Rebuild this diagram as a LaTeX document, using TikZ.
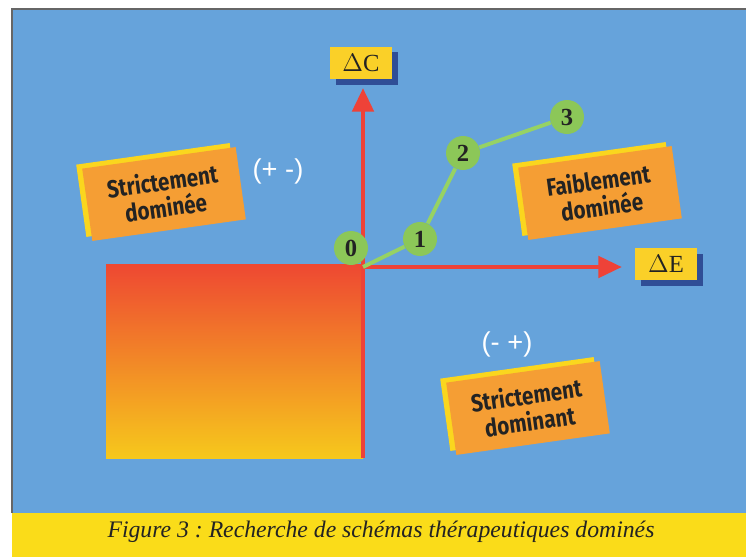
\documentclass[tikz,border=0pt]{standalone}
\usepackage{fontspec}
\setmainfont{Liberation Serif}
\newfontfamily\tagfont{Fira Sans}
\newfontfamily\signfont{Liberation Sans}
\usetikzlibrary{arrows.meta, shadows}
\frenchspacing

\definecolor{panelblue}{RGB}{102,163,219}
\definecolor{captionyellow}{RGB}{250,220,25}
\definecolor{tagorange}{RGB}{245,158,52}
\definecolor{tagyellow}{RGB}{250,214,30}
\definecolor{boxyellow}{RGB}{250,208,40}
\definecolor{axisred}{RGB}{238,66,56}
\definecolor{pointgreen}{RGB}{140,199,88}
\definecolor{linegreen}{RGB}{150,210,100}
\definecolor{shadowblue}{RGB}{48,78,150}
\definecolor{inkgrey}{RGB}{35,35,35}
\definecolor{gradtop}{RGB}{238,72,50}
\definecolor{gradbottom}{RGB}{246,200,28}

% narrow two-line label for the region tags
\newcommand{\tagtext}[2]{\scalebox{0.84}[1]{#1}\\\scalebox{0.84}[1]{#2}}

\begin{document}
\begin{tikzpicture}[
        x=0.02cm, y=-0.02cm,
        tag/.style={fill=tagorange, rotate=8, minimum width=3.1cm, minimum height=1.46cm, align=center, inner sep=0pt, text=inkgrey, font=\tagfont\bfseries\fontsize{14}{15}\selectfont, copy shadow={fill=tagyellow, draw=none, shadow xshift=-0.12cm, shadow yshift=0.08cm}},
        axislabel/.style={fill=boxyellow, minimum width=1.24cm, minimum height=0.66cm, inner sep=0pt, text=inkgrey, font=\fontsize{14}{14}\selectfont, drop shadow={fill=shadowblue, opacity=1, shadow xshift=0.12cm, shadow yshift=-0.12cm}},
        sign/.style={text=white, font=\signfont\fontsize{15.5}{18}\selectfont},
        point/.style={circle, fill=pointgreen, minimum size=0.68cm, inner sep=0pt, text=inkgrey, font=\bfseries\fontsize{14}{14}\selectfont},
        axis/.style={line width=2.8pt, draw=axisred, -{Triangle[length=13.5pt, width=12pt]}},
        path/.style={line width=2.2pt, draw=linegreen}
    ]

        % background
        \useasboundingbox (0,0) rectangle (746,557);
        \fill[white] (0,0) rectangle (746,557);
        \fill[panelblue] (12,9) rectangle (746,513);
        \fill[captionyellow] (12,513) rectangle (746,557);
        \draw[black!60, line width=0.6pt] (12,513) -- (12,9) -- (746,9);

        % dominated region
        \shade[top color=gradtop, bottom color=gradbottom] (106,264) rectangle (363,458);

        % axes
        \coordinate (O) at (363,267);
        \coordinate (ybot) at (363,458);
        \coordinate (ytip) at (363,88);
        \coordinate (xtip) at (622,267);
        \draw[axis] (ybot) -- (ytip);
        \draw[axis] (O) -- (xtip);

        \node[axislabel] (dC) at (361,63) {$\Delta$C};
        \node[axislabel] (dE) at (666,264) {$\Delta$E};

        % strategies
        \node[point] (p0) at (351,248) {0};
        \node[point] (p1) at (420,239) {1};
        \node[point] (p2) at (463,153) {2};
        \node[point] (p3) at (567,117) {3};
        \draw[path] (O) -- (p1) -- (p2) -- (p3);

        % regions
        \node[tag] (sdomd) at (164,194) {\tagtext{Strictement}{dominée}};
        \node[tag] (fdomd) at (600,193) {\tagtext{Faiblement}{dominée}};
        \node[tag] (sdomt) at (528,408) {\tagtext{Strictement}{dominant}};
        \node[sign] (pm) at (278,171) {(+ -)};
        \node[sign] (mp) at (507,344) {(- +)};

        \node[text=inkgrey, font=\itshape\fontsize{13.5}{16}\selectfont] (caption) at (381,532) {Figure 3 : Recherche de schémas thérapeutiques dominés};
    \end{tikzpicture}
\end{document}
